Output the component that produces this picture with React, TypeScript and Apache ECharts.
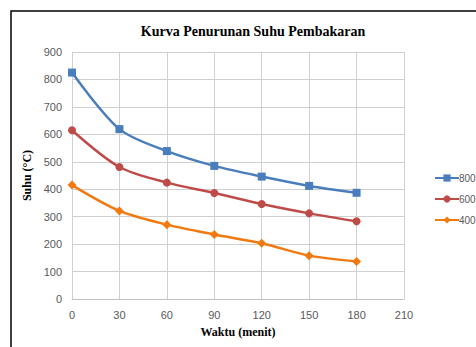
import React, { useEffect, useRef } from "react";
import * as echarts from "echarts";

const title = "Kurva Penurunan Suhu Pembakaran";
const xTitle = "Waktu (menit)";
const yTitle = "Suhu (°C)";
const times = [0, 30, 60, 90, 120, 150, 180];
const seriesNames = ["800", "600", "400"];
const s800 = [825, 619, 539, 485, 446, 412, 387];
const s600 = [615, 481, 424, 386, 346, 312, 283];
const s400 = [415, 321, 271, 235, 203, 158, 137];
const colors = ["#4A7EBB", "#BE4B48", "#F07A10"];
const symbols = ["rect", "circle", "diamond"];

export default function App() {
  const ref = useRef<HTMLDivElement>(null);
  useEffect(() => {
    const chart = echarts.init(ref.current!, null, { renderer: "svg" });
    const values = [s800, s600, s400];
    chart.setOption({
      animation: false,
      backgroundColor: "#ffffff",
      title: {
        text: title,
        left: 248,
        top: 19,
        textAlign: "center",
        textStyle: {
          fontFamily: "Liberation Serif",
          fontWeight: "bold",
          fontSize: 14,
          color: "#000",
        },
      },
      graphic: [
        {
          type: "rect",
          shape: { x: 11, y: 11, width: 600, height: 500 },
          style: { fill: "none", stroke: "#000", lineWidth: 1.5 },
          silent: true,
        },
      ],
      legend: {
        orient: "vertical",
        left: 429,
        top: 168,
        itemWidth: 24,
        itemHeight: 9,
        itemGap: 11,
        data: seriesNames,
        textStyle: {
          fontFamily: "Liberation Sans",
          fontSize: 10,
          color: "#595959",
          padding: [0, 0, 0, -5],
        },
      },
      grid: { left: 72, right: 72, top: 52, bottom: 48 },
      xAxis: {
        type: "value",
        min: 0,
        max: 210,
        interval: 30,
        name: xTitle,
        nameLocation: "middle",
        nameGap: 27,
        nameTextStyle: {
          fontFamily: "Liberation Serif",
          fontWeight: "bold",
          fontSize: 12,
          color: "#000",
        },
        axisLine: { show: true, lineStyle: { color: "#BFBFBF" } },
        axisTick: { show: false },
        axisLabel: {
          margin: 10,
          fontFamily: "Liberation Sans",
          fontSize: 11,
          color: "#595959",
        },
        splitLine: { show: true, lineStyle: { color: "#D0D0D0" } },
      },
      yAxis: {
        type: "value",
        min: 0,
        max: 900,
        interval: 100,
        name: yTitle,
        nameLocation: "middle",
        nameGap: 34,
        nameRotate: 90,
        nameTextStyle: {
          fontFamily: "Liberation Serif",
          fontWeight: "bold",
          fontSize: 12,
          color: "#000",
        },
        axisLine: { show: false },
        axisTick: { show: false },
        axisLabel: {
          margin: 10,
          fontFamily: "Liberation Sans",
          fontSize: 11,
          color: "#595959",
        },
        splitLine: { show: true, lineStyle: { color: "#D0D0D0" } },
      },
      series: seriesNames.map((name, i) => ({
        name,
        type: "line",
        smooth: 0.3,
        symbol: symbols[i],
        symbolSize: i === 2 ? 9 : 8,
        data: times.map((t, j) => [t, values[i][j]]),
        lineStyle: { color: colors[i], width: 2.5 },
        itemStyle: { color: colors[i] },
      })),
    });
    return () => chart.dispose();
  }, []);
  return (
    <div
      ref={ref}
      style={{ position: "fixed", left: 0, top: 0, width: 476, height: 347 }}
    />
  );
}
